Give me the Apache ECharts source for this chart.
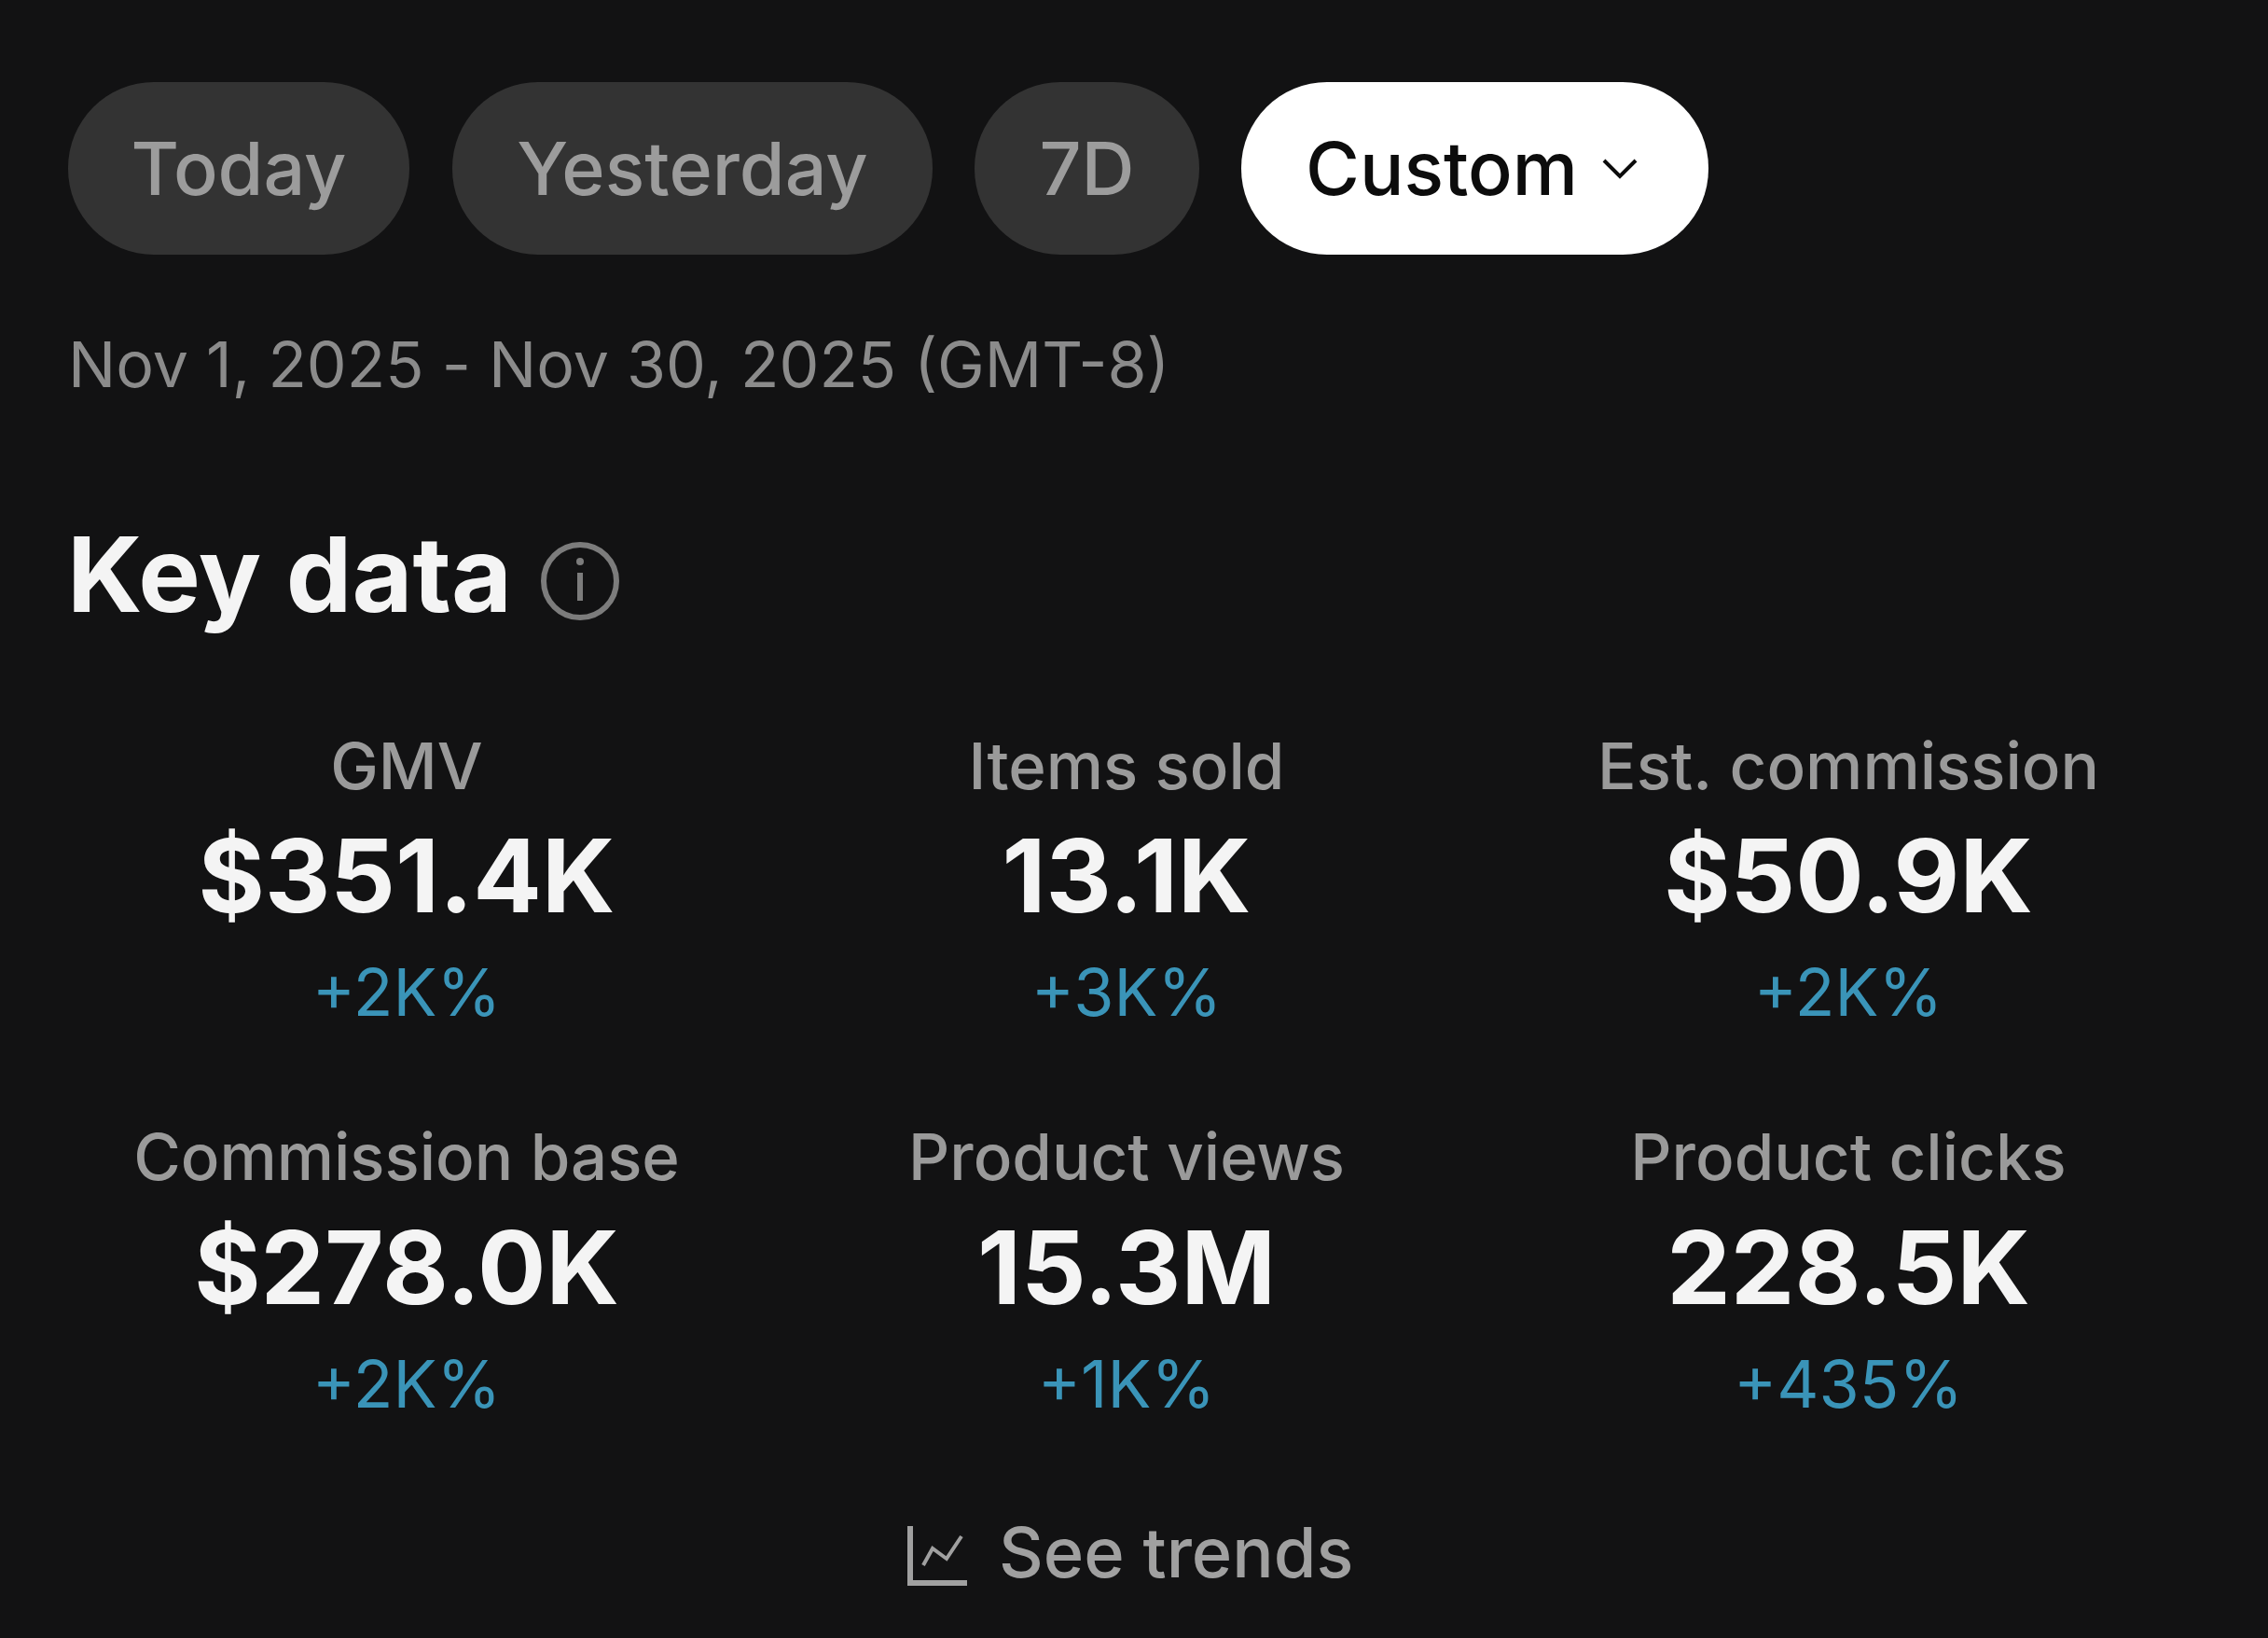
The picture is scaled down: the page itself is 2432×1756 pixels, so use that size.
<!DOCTYPE html>
<html lang="en">
<head>
    <meta charset="UTF-8">
    <title>Key data</title>
    <script src="https://cdn.jsdelivr.net/npm/echarts@6/dist/echarts.min.js"></script>
    <style>
        * { margin: 0; padding: 0 }
        html, body { width: 100%; height: 100%; background: #121213; overflow: hidden; }
        #main { width: 2432px; height: 1756px; }
    </style>
</head>
<body>
<div id="main"></div>
<script type="text/javascript">
    var rangeTabs = ['Today', 'Yesterday', '7D', 'Custom'];
    var dateRange = 'Nov 1, 2025 - Nov 30, 2025 (GMT-8)';
    var sectionTitle = 'Key data';
    var metricNames = ['GMV', 'Items sold', 'Est. commission', 'Commission base', 'Product views', 'Product clicks'];
    var metricValues = ['$351.4K', '13.1K', '$50.9K', '$278.0K', '15.3M', '228.5K'];
    var metricChanges = ['+2K%', '+3K%', '+2K%', '+2K%', '+1K%', '+435%'];
    var trendsLabel = 'See trends';

    var FONT = 'Inter, "Noto Sans", sans-serif';
    var tabBoxes = [[73, 366], [485, 515], [1045, 241], [1331, 501]];
    var colX = [436, 1208, 1982];
    var rowY = [[825, 945, 1068], [1244, 1365, 1488]];

    function txt(x, y, text, size, weight, fill, align) {
        return {
            type: 'text', x: x, y: y, silent: true,
            style: {
                text: text, fill: fill, align: align || 'center', verticalAlign: 'middle',
                fontFamily: FONT, fontSize: size, fontWeight: weight
            }
        };
    }

    var els = [];
    // tabs
    rangeTabs.forEach(function (name, i) {
        var b = tabBoxes[i], active = i === 3;
        els.push({
            type: 'rect', silent: true,
            shape: { x: b[0], y: 88, width: b[1], height: 185, r: 92 },
            style: { fill: active ? '#ffffff' : '#333333' }
        });
        if (active) {
            els.push(txt(1400, 185, name, 79, 500, '#0c0c0c', 'left'));
        } else {
            els.push(txt(b[0] + b[1] / 2, 185, name, 79, 500, '#9c9c9c'));
        }
    });
    // chevron on the active tab
    els.push({
        type: 'polyline', silent: true,
        shape: { points: [[1720, 172], [1737, 189], [1754, 172]] },
        style: { stroke: '#0c0c0c', lineWidth: 4, fill: null }
    });

    els.push(txt(73, 395, dateRange, 68, 400, '#8b8b8b', 'left'));
    els.push(txt(72, 622, sectionTitle, 112, 700, '#f4f4f4', 'left'));

    // info icon
    els.push({
        type: 'circle', silent: true,
        shape: { cx: 622, cy: 623, r: 39 },
        style: { stroke: '#7c7c7c', lineWidth: 6, fill: null }
    });
    els.push({ type: 'circle', silent: true, shape: { cx: 622, cy: 602, r: 4 }, style: { fill: '#7c7c7c' } });
    els.push({ type: 'rect', silent: true, shape: { x: 619, y: 614, width: 6, height: 30 }, style: { fill: '#7c7c7c' } });

    // metric grid
    metricNames.forEach(function (name, i) {
        var x = colX[i % 3], y = rowY[Math.floor(i / 3)];
        els.push(txt(x, y[0], name, 69, 500, '#9a9a9a'));
        els.push(txt(x, y[1], metricValues[i], 109, 700, '#f4f4f4'));
        els.push(txt(x, y[2], metricChanges[i], 70, 400, '#3a94b8'));
    });

    // see trends
    els.push({
        type: 'polyline', silent: true,
        shape: { points: [[976, 1636], [976, 1697], [1037, 1697]] },
        style: { stroke: '#a0a0a0', lineWidth: 6, fill: null }
    });
    els.push({
        type: 'polyline', silent: true,
        shape: { points: [[990, 1678], [1000, 1660], [1015, 1671], [1031, 1647]] },
        style: { stroke: '#a0a0a0', lineWidth: 4, fill: null }
    });
    els.push(txt(1071, 1669, trendsLabel, 74, 500, '#a0a0a0', 'left'));

    var myChart = echarts.init(document.getElementById('main'), null, { renderer: 'canvas', devicePixelRatio: 1 });
    myChart.setOption({
        backgroundColor: '#121213',
        animation: false,
        graphic: { elements: els }
    });
</script>
</body>
</html>
